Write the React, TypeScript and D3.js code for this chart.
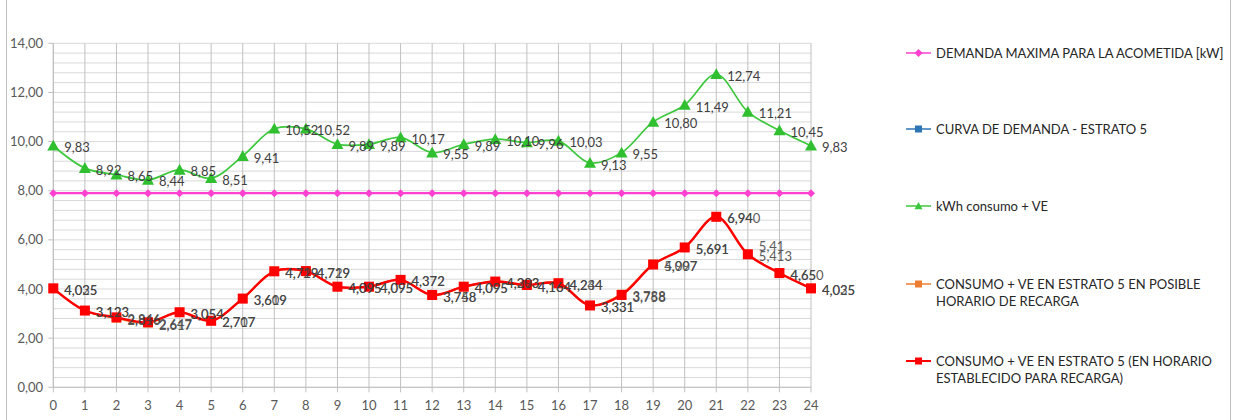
import React from "react";
import * as d3 from "d3";

const hours = d3.range(0, 25);
const demandaMax = [7.9, 7.9, 7.9, 7.9, 7.9, 7.9, 7.9, 7.9, 7.9, 7.9, 7.9, 7.9, 7.9, 7.9, 7.9, 7.9, 7.9, 7.9, 7.9, 7.9, 7.9, 7.9, 7.9, 7.9, 7.9];
const kwhConsumoVE = [9.83, 8.92, 8.65, 8.44, 8.85, 8.51, 9.41, 10.52, 10.52, 9.89, 9.89, 10.17, 9.55, 9.89, 10.1, 9.96, 10.03, 9.13, 9.55, 10.8, 11.49, 12.74, 11.21, 10.45, 9.83];
const posibleHorario = [4.035, 3.123, 2.816, 2.617, 3.054, 2.717, 3.619, 4.729, 4.719, 4.095, 4.095, 4.372, 3.748, 4.095, 4.293, 4.164, 4.244, 3.331, 3.788, 5.007, 5.691, 6.94, 5.41, 4.65, 4.035];
const horarioEstablecido = [4.025, 3.123, 2.846, 2.647, 3.054, 2.707, 3.609, 4.719, 4.729, 4.095, 4.095, 4.372, 3.758, 4.095, 4.303, 4.164, 4.234, 3.331, 3.758, 4.997, 5.691, 6.94, 5.413, 4.65, 4.025];
const yTicks = [0, 2, 4, 6, 8, 10, 12, 14];
const legendLabels = [
  ["DEMANDA MAXIMA PARA LA ACOMETIDA [kW]"],
  ["CURVA DE DEMANDA - ESTRATO 5"],
  ["kWh consumo + VE"],
  ["CONSUMO + VE EN ESTRATO 5 EN POSIBLE", "HORARIO DE RECARGA"],
  ["CONSUMO + VE EN ESTRATO 5 (EN HORARIO", "ESTABLECIDO PARA RECARGA)"],
];

const FONT = "Lato, 'Open Sans', sans-serif";

function fmt(v: number, d: number) {
  return v.toFixed(d).replace(".", ",");
}
function fmtTrim(v: number) {
  return String(+v.toFixed(3)).replace(".", ",");
}

function marker(kind: string, x: number, y: number, color: string, s: number, key: any) {
  if (kind === "diamond") {
    return <path key={key} d={`M${x},${y - s}L${x + s},${y}L${x},${y + s}L${x - s},${y}Z`} fill={color} />;
  }
  if (kind === "triangle") {
    return <path key={key} d={`M${x},${y - s}L${x + s},${y + s * 0.8}L${x - s},${y + s * 0.8}Z`} fill={color} />;
  }
  return <rect key={key} x={x - s} y={y - s} width={2 * s} height={2 * s} fill={color} />;
}

export default function App() {
  const x = d3.scaleLinear().domain([0, 24]).range([53.3, 811]);
  const y = d3.scaleLinear().domain([0, 14]).range([387.3, 43.3]);
  const minor = d3.range(0, 14.001, 0.4);
  const line = (vals: number[]) =>
    d3.line<number>().x((_, i) => x(hours[i])).y((v) => y(v)).curve(d3.curveCatmullRom.alpha(0.5))(vals) || "";
  const straight = (vals: number[]) =>
    d3.line<number>().x((_, i) => x(hours[i])).y((v) => y(v))(vals) || "";

  const legendColors = ["#ff40d0", "#2e75b6", "#3cc83c", "#ed7d31", "#ff0000"];
  const legendKinds = ["diamond", "square", "triangle", "square", "square"];
  const legendY = [53, 129, 206, 284, 361];

  return (
    <svg width={1236} height={420} style={{ position: "absolute", left: 0, top: 0, background: "#fff" }} fontFamily={FONT}>
      <rect x={6.5} y={-10} width={1224} height={440} fill="#fff" stroke="#bfbfbf" />
      {minor.map((v, i) => (
        <line key={"h" + i} x1={x(0)} x2={x(24)} y1={y(v)} y2={y(v)} stroke="#d9d9d9" strokeWidth={1} />
      ))}
      {hours.map((h) => (
        <line key={"v" + h} x1={x(h)} x2={x(h)} y1={y(14)} y2={y(0) + 5} stroke="#c0c0c0" strokeWidth={1} />
      ))}
      <line x1={x(0)} x2={x(0)} y1={y(14)} y2={y(0)} stroke="#bfbfbf" />
      <line x1={x(0)} x2={x(24)} y1={y(0)} y2={y(0)} stroke="#bfbfbf" />
      {yTicks.map((t) => (
        <g key={"yt" + t}>
          <line x1={x(0) - 5} x2={x(0)} y1={y(t)} y2={y(t)} stroke="#bfbfbf" />
          <text x={43} y={y(t)} dy="0.35em" textAnchor="end" fontSize={13} fill="#595959">
            {fmt(t, 2)}
          </text>
        </g>
      ))}
      {hours.map((h) => (
        <text key={"xt" + h} x={x(h)} y={405} dy="0.35em" textAnchor="middle" fontSize={13} fill="#595959">
          {h}
        </text>
      ))}

      {/* magenta */}
      <path d={straight(demandaMax)} fill="none" stroke="#ff40d0" strokeWidth={2.2} />
      {demandaMax.map((v, i) => marker("diamond", x(hours[i]), y(v), "#ff40d0", 4, "m" + i))}

      {/* green */}
      <path d={line(kwhConsumoVE)} fill="none" stroke="#3cc83c" strokeWidth={1.7} />
      {kwhConsumoVE.map((v, i) => marker("triangle", x(hours[i]), y(v), "#2fbf2f", 6, "g" + i))}

      {/* orange (hidden beneath red) */}
      <path d={line(posibleHorario)} fill="none" stroke="#ed7d31" strokeWidth={2} />
      {posibleHorario.map((v, i) => marker("square", x(hours[i]), y(v), "#ed7d31", 4.5, "o" + i))}

      {/* red */}
      <path d={line(horarioEstablecido)} fill="none" stroke="#ff0000" strokeWidth={2.4} />
      {horarioEstablecido.map((v, i) => marker("square", x(hours[i]), y(v), "#ff0000", 5, "r" + i))}

      {/* labels */}
      {kwhConsumoVE.map((v, i) => (
        <text key={"gl" + i} x={x(hours[i]) + 11} y={y(v) + 2} dy="0.35em" fontSize={13} fill="#404040">
          {fmt(v, 2)}
        </text>
      ))}
      {posibleHorario.map((v, i) => {
        const txt = fmtTrim(v);
        const short = txt.length < 5;
        return (
          <text key={"ol" + i} x={x(hours[i]) + 11} y={y(v) + 2 - (short && v !== horarioEstablecido[i] ? 10 : 0)} dy="0.35em" fontSize={13} fill="#404040" opacity={0.85}>
            {txt}
          </text>
        );
      })}
      {horarioEstablecido.map((v, i) => (
        <text key={"rl" + i} x={x(hours[i]) + 11} y={y(v) + 2} dy="0.35em" fontSize={13} fill="#404040" opacity={0.85}>
          {fmt(v, 3)}
        </text>
      ))}

      {/* legend */}
      {legendLabels.map((lines, k) => {
        const ly = legendY[k];
        return (
          <g key={"lg" + k}>
            <line x1={906} x2={931} y1={ly} y2={ly} stroke={legendColors[k]} strokeWidth={k === 4 ? 2 : 1.5} />
            {marker(legendKinds[k], 918.5, ly, legendColors[k], legendKinds[k] === "square" ? 3.5 : 4, "lm" + k)}
            {lines.map((t, j) => (
              <text key={j} x={936} y={ly + j * 17} dy="0.35em" fontSize={13} fill="#262626">
                {t}
              </text>
            ))}
          </g>
        );
      })}
    </svg>
  );
}
